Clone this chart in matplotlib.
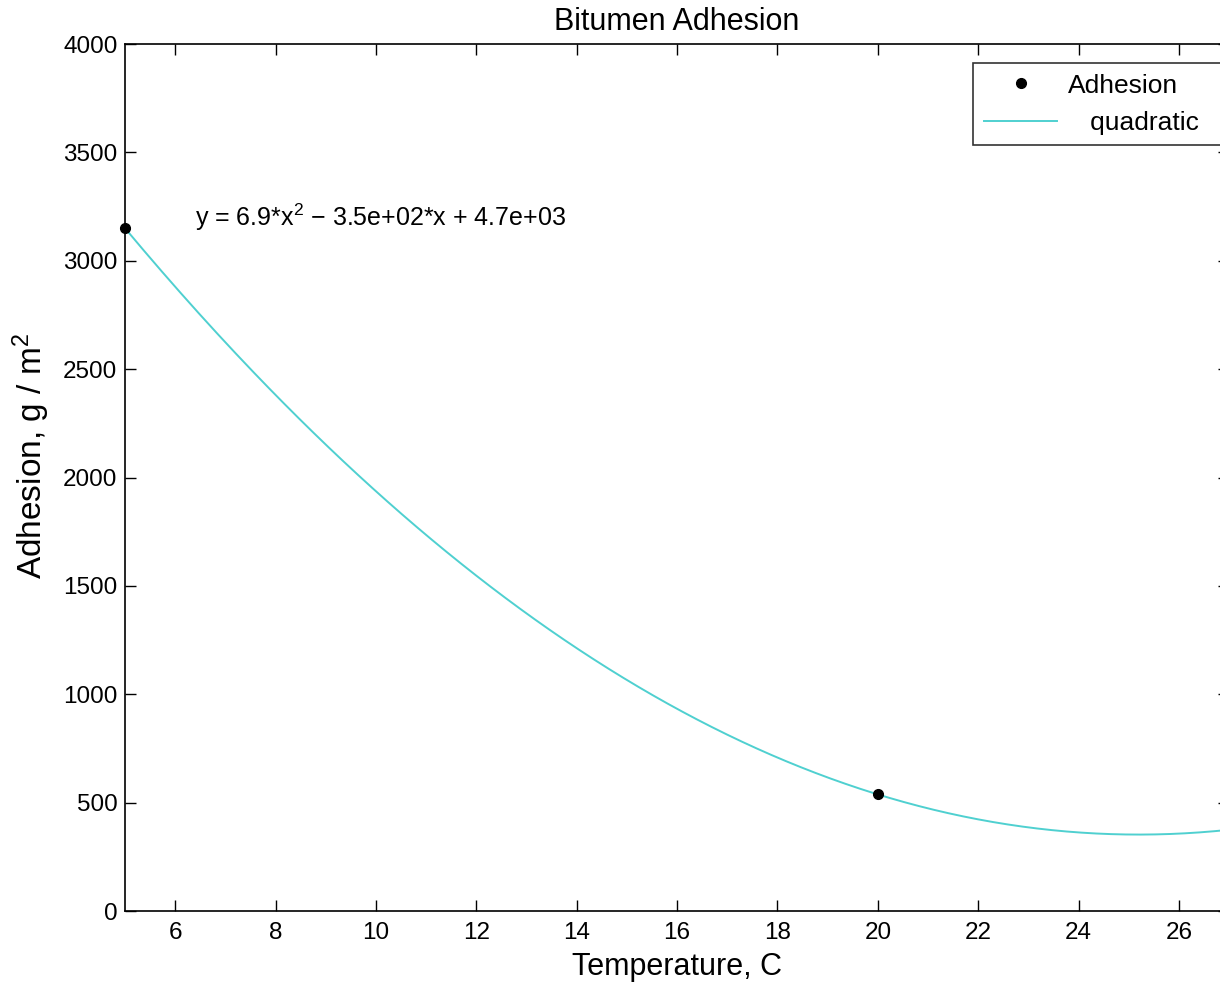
import numpy as np
import matplotlib.pyplot as plt

# measured points
temperature = [5, 20, 27]
adhesion = [3150, 538, 375]

x_ticks = [6, 8, 10, 12, 14, 16, 18, 20, 22, 24, 26]
y_ticks = [0, 500, 1000, 1500, 2000, 2500, 3000, 3500, 4000]

plt.rcParams['font.family'] = ['Liberation Sans', 'DejaVu Sans']
plt.rcParams['mathtext.fontset'] = 'custom'
plt.rcParams['mathtext.rm'] = 'Liberation Sans'
plt.rcParams['mathtext.it'] = 'Liberation Sans'

fig = plt.figure(figsize=(12.2, 9.85), dpi=100)
ax = fig.add_axes([0.1025, 0.0751, 0.905, 0.8802])

# quadratic fit through the points
coef = np.polyfit(temperature, adhesion, 2)
xfit = np.linspace(temperature[0], temperature[-1], 300)
yfit = np.polyval(coef, xfit)

ax.plot(temperature, adhesion, 'o', color='black', markersize=7, label='Adhesion', zorder=3, clip_on=False)
ax.plot(xfit, yfit, '-', color='#4fd0d0', linewidth=1.4, label='   quadratic    ')

ax.set_xlim(5, 27)
ax.set_ylim(0, 4000)
ax.set_xticks(x_ticks)
ax.set_yticks(y_ticks)
ax.tick_params(direction='in', length=8, width=1, top=True, right=True, labelsize=17.5)
ax.tick_params(axis='y', pad=5.5)
ax.tick_params(axis='x', pad=8)
for s in ax.spines.values():
    s.set_linewidth(1.2)

ax.set_title('Bitumen Adhesion', fontsize=22, pad=10)
ax.set_xlabel('Temperature, C', fontsize=22, labelpad=6)
ax.set_ylabel('Adhesion, g / m$^2$', fontsize=24)
ax.yaxis.set_label_coords(-0.066, 0.525)

ax.text(6.4, 3200, 'y = 6.9*x$^2$ \u2212 3.5e+02*x + 4.7e+03', fontsize=18, ha='left', va='center')

leg = ax.legend(loc='upper left', bbox_to_anchor=(973 / 1220, 1 - 63 / 985), bbox_transform=fig.transFigure,
                fontsize=19, frameon=True, fancybox=False, edgecolor='black', borderpad=0.4,
                borderaxespad=0, handlelength=2.8, handletextpad=0.4, labelspacing=0.5)
leg.get_frame().set_linewidth(1.2)

plt.savefig('out.png', dpi=100)
